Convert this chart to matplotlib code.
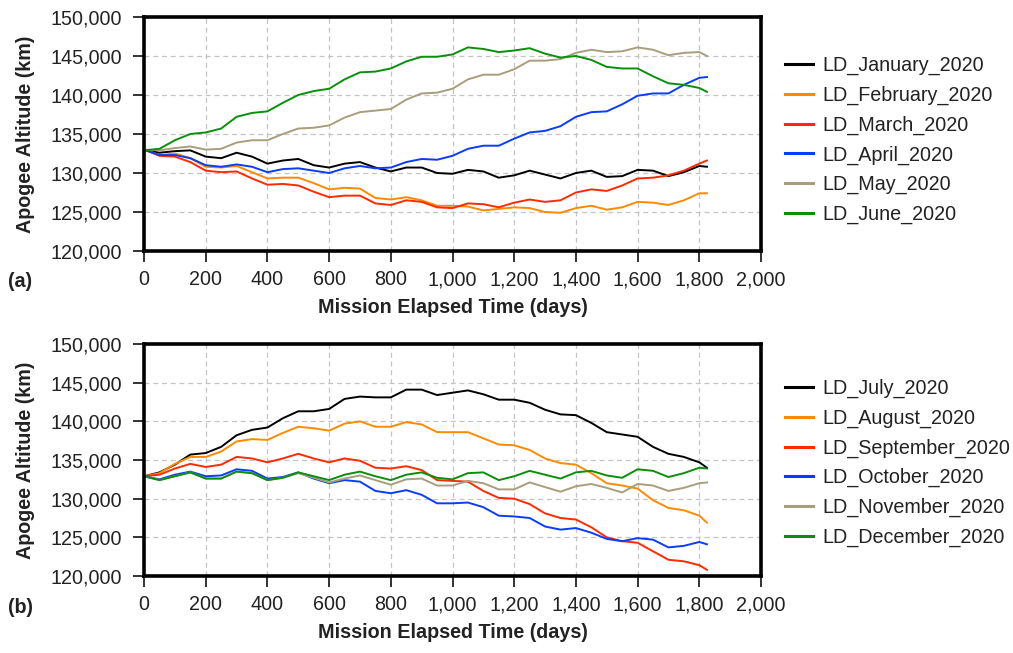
import matplotlib
matplotlib.use("Agg")
import matplotlib.pyplot as plt
from matplotlib import font_manager
from matplotlib.ticker import FuncFormatter, MultipleLocator

# ---------------- data (km) ----------------
days = [0, 50, 100, 150, 200, 250, 300, 350, 400, 450, 500, 550, 600, 650, 700,
        750, 800, 850, 900, 950, 1000, 1050, 1100, 1150, 1200, 1250, 1300, 1350,
        1400, 1450, 1500, 1550, 1600, 1650, 1700, 1750, 1800, 1825]

jan = [133.0, 132.6, 132.8, 132.9, 132.1, 131.9, 132.6, 132.1, 131.2, 131.6, 131.8, 131.0,
       130.7, 131.2, 131.4, 130.7, 130.2, 130.7, 130.7, 130.0, 129.9, 130.4, 130.2, 129.4,
       129.7, 130.3, 129.8, 129.3, 130.0, 130.3, 129.5, 129.6, 130.4, 130.3, 129.6, 130.1,
       130.9, 130.8]
feb = [133.0, 132.3, 132.5, 131.9, 130.8, 130.7, 130.9, 130.1, 129.3, 129.4, 129.4, 128.7,
       127.9, 128.1, 128.0, 126.8, 126.6, 126.9, 126.5, 125.8, 125.8, 125.7, 125.2, 125.4,
       125.6, 125.5, 125.0, 124.9, 125.5, 125.8, 125.3, 125.6, 126.3, 126.2, 125.9, 126.5,
       127.4, 127.4]
mar = [133.0, 132.2, 132.1, 131.4, 130.3, 130.1, 130.2, 129.3, 128.5, 128.6, 128.4, 127.6,
       126.9, 127.1, 127.1, 126.1, 125.9, 126.5, 126.3, 125.6, 125.5, 126.1, 126.0, 125.6,
       126.2, 126.6, 126.3, 126.5, 127.5, 127.9, 127.7, 128.4, 129.3, 129.4, 129.7, 130.3,
       131.2, 131.6]
apr = [133.0, 132.3, 132.3, 131.9, 131.0, 130.8, 131.1, 130.8, 130.1, 130.5, 130.6, 130.3,
       130.0, 130.6, 130.9, 130.6, 130.7, 131.4, 131.8, 131.7, 132.2, 133.1, 133.5, 133.5,
       134.4, 135.2, 135.4, 136.0, 137.2, 137.8, 137.9, 138.8, 139.9, 140.2, 140.2, 141.3,
       142.2, 142.3]
may = [133.0, 132.9, 133.2, 133.4, 133.0, 133.1, 133.9, 134.2, 134.2, 135.0, 135.7, 135.8,
       136.1, 137.1, 137.8, 138.0, 138.2, 139.4, 140.2, 140.3, 140.8, 142.0, 142.6, 142.6,
       143.3, 144.4, 144.4, 144.6, 145.4, 145.8, 145.5, 145.6, 146.1, 145.8, 145.1, 145.4,
       145.5, 145.0]
jun = [132.9, 133.1, 134.2, 135.0, 135.2, 135.7, 137.2, 137.7, 137.9, 139.0, 140.0, 140.5,
       140.8, 142.0, 142.9, 143.0, 143.4, 144.3, 144.9, 144.9, 145.2, 146.1, 145.9, 145.5,
       145.7, 146.0, 145.3, 144.8, 145.0, 144.5, 143.6, 143.4, 143.4, 142.4, 141.5, 141.3,
       140.9, 140.4]

jul = [132.9, 133.4, 134.4, 135.7, 135.9, 136.7, 138.2, 138.9, 139.2, 140.4, 141.3, 141.3,
       141.6, 142.9, 143.2, 143.1, 143.1, 144.1, 144.1, 143.4, 143.7, 144.0, 143.5, 142.8,
       142.8, 142.4, 141.5, 140.9, 140.8, 139.8, 138.6, 138.3, 138.0, 136.7, 135.8, 135.4,
       134.7, 134.0]
aug = [132.9, 133.3, 134.5, 135.4, 135.4, 136.1, 137.4, 137.7, 137.6, 138.5, 139.3, 139.1,
       138.8, 139.7, 140.0, 139.3, 139.3, 139.9, 139.6, 138.6, 138.6, 138.6, 137.8, 137.0,
       136.9, 136.3, 135.2, 134.6, 134.4, 133.3, 132.0, 131.7, 131.3, 129.8, 128.8, 128.5,
       127.8, 126.9]
sep = [132.9, 133.1, 133.9, 134.5, 134.1, 134.4, 135.4, 135.2, 134.7, 135.2, 135.8, 135.2,
       134.7, 135.2, 134.9, 134.0, 133.9, 134.2, 133.7, 132.4, 132.3, 132.2, 131.0, 130.1,
       130.0, 129.3, 128.1, 127.5, 127.3, 126.3, 125.0, 124.5, 124.3, 123.2, 122.1, 121.9,
       121.4, 120.8]
oct_ = [132.9, 132.5, 133.1, 133.5, 132.9, 133.0, 133.8, 133.6, 132.6, 132.8, 133.4, 132.6,
        132.0, 132.4, 132.2, 131.0, 130.7, 131.1, 130.5, 129.4, 129.4, 129.5, 128.9, 127.8,
        127.7, 127.5, 126.4, 126.0, 126.2, 125.6, 124.8, 124.5, 124.9, 124.7, 123.7, 123.9,
        124.4, 124.1]
nov = [132.9, 132.4, 132.9, 133.4, 132.6, 132.6, 133.5, 133.3, 132.4, 132.7, 133.3, 132.7,
       132.1, 132.6, 133.0, 132.4, 131.8, 132.5, 132.6, 131.7, 131.7, 132.3, 132.0, 131.2,
       131.2, 132.1, 131.5, 130.9, 131.6, 131.9, 131.4, 130.8, 131.9, 131.7, 131.0, 131.4,
       132.0, 132.1]
dec = [132.9, 132.4, 132.9, 133.4, 132.6, 132.6, 133.5, 133.3, 132.4, 132.7, 133.4, 132.9,
       132.4, 133.1, 133.5, 132.9, 132.4, 133.1, 133.4, 132.7, 132.5, 133.3, 133.4, 132.4,
       132.9, 133.6, 133.1, 132.6, 133.4, 133.6, 133.0, 132.7, 133.8, 133.6, 132.8, 133.3,
       134.0, 133.9]

labels_a = ["LD_January_2020", "LD_February_2020", "LD_March_2020",
            "LD_April_2020", "LD_May_2020", "LD_June_2020"]
labels_b = ["LD_July_2020", "LD_August_2020", "LD_September_2020",
            "LD_October_2020", "LD_November_2020", "LD_December_2020"]
series_a = [jan, feb, mar, apr, may, jun]
series_b = [jul, aug, sep, oct_, nov, dec]
colors = ["#000000", "#FF8A00", "#FF2A00", "#0A3CFF", "#A89E7C", "#0A8F0A"]

# ---------------- fonts ----------------
avail = {f.name for f in font_manager.fontManager.ttflist}
if "Liberation Sans Narrow" in avail:
    plt.rcParams["font.family"] = ["Liberation Sans Narrow", "DejaVu Sans"]
    FS, LFS = 16, 15
else:
    plt.rcParams["font.family"] = ["Liberation Sans", "DejaVu Sans"]
    FS, LFS = 14.2, 14.2

fig = plt.figure(figsize=(10.13, 6.53), dpi=100)
ax_a = fig.add_axes([0.1422, 0.6156, 0.6090, 0.3584])
ax_b = fig.add_axes([0.1422, 0.1179, 0.6090, 0.3553])

fmt = FuncFormatter(lambda v, p: f"{int(round(v)):,}")


def style(ax, data, labels, leg_y):
    for ys, lab, c in zip(data, labels, colors):
        ax.plot(days, [v * 1000 for v in ys], color=c, lw=1.4, label=lab, zorder=3)
    ax.set_xlim(0, 2000)
    ax.set_ylim(120000, 150000)
    ax.xaxis.set_major_locator(MultipleLocator(200))
    ax.yaxis.set_major_locator(MultipleLocator(5000))
    ax.xaxis.set_major_formatter(fmt)
    ax.yaxis.set_major_formatter(fmt)
    ax.grid(True, color="#c4c4c4", ls=(0, (4, 3)), lw=0.9, zorder=0)
    for s in ax.spines.values():
        s.set_linewidth(2.6)
        s.set_zorder(5)
    ax.tick_params(axis="both", direction="out", labelsize=FS, width=1.3, color="#222222")
    ax.tick_params(axis="y", length=8, pad=8)
    ax.tick_params(axis="x", length=8, pad=6)
    for t in ax.get_xticklabels() + ax.get_yticklabels():
        t.set_color("#222222")
    ax.set_xlabel("Mission Elapsed Time (days)", fontsize=LFS, fontweight="bold",
                  labelpad=6, color="#222222")
    ax.set_ylabel("Apogee Altitude (km)", fontsize=LFS, fontweight="bold",
                  labelpad=11, color="#222222")
    leg = ax.legend(loc="upper left", bbox_to_anchor=(0.775, leg_y),
                    bbox_transform=fig.transFigure, frameon=False, fontsize=FS,
                    handlelength=1.42, handletextpad=0.46, labelspacing=0.53,
                    borderaxespad=0, borderpad=0)
    for txt in leg.get_texts():
        txt.set_color("#222222")
    for ln in leg.get_lines():
        ln.set_linewidth(2.2)


style(ax_a, series_a, labels_a, 0.914)
style(ax_b, series_b, labels_b, 0.4196)

fig.text(0.008, 0.569, "(a)", fontsize=LFS, fontweight="bold", color="#222222", va="center")
fig.text(0.008, 0.070, "(b)", fontsize=LFS, fontweight="bold", color="#222222", va="center")

fig.savefig("out.png", dpi=100)
